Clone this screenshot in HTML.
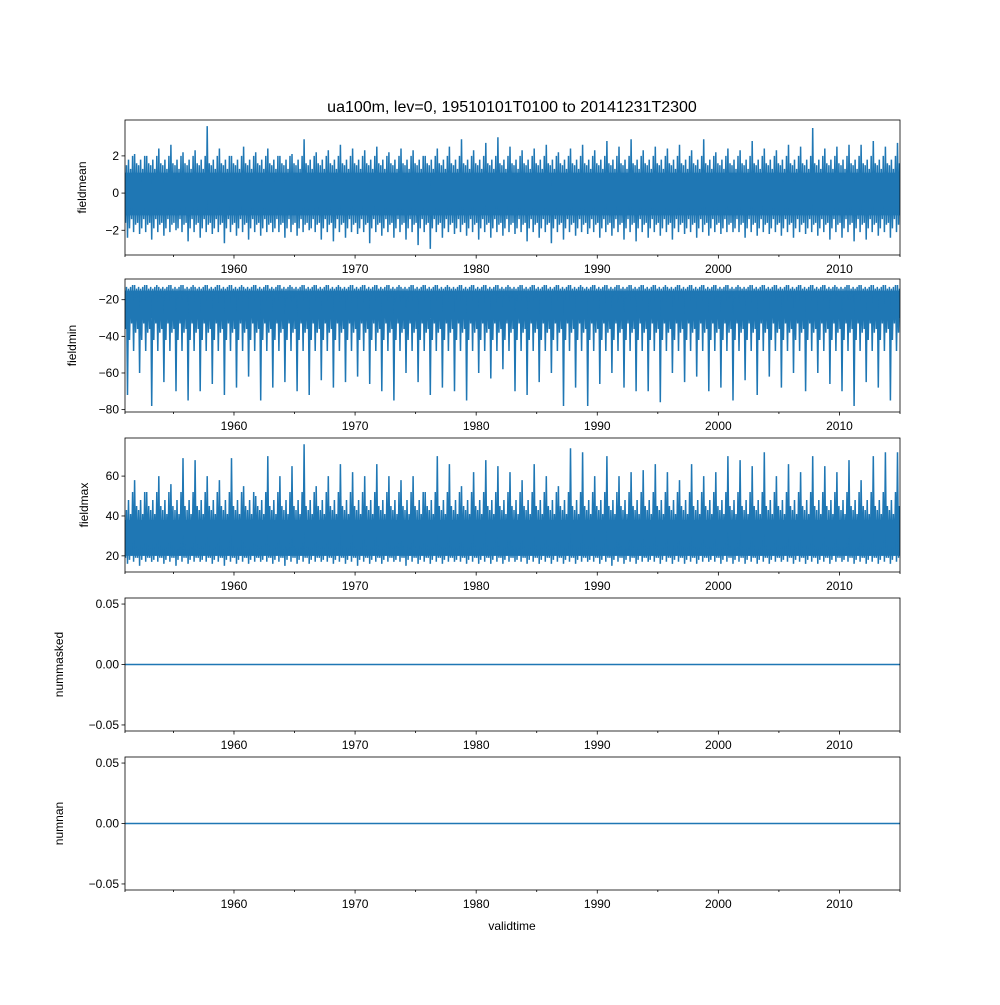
<!DOCTYPE html>
<html><head><meta charset="utf-8">
<style>
body{margin:0;background:#fff}
svg text{font-family:"Liberation Sans","DejaVu Sans",sans-serif;fill:#000}
</style></head>
<body>
<svg id="chart" width="1000" height="1000" viewBox="0 0 1000 1000">
<rect width="1000" height="1000" fill="#fff"/>
<text x="512" y="112" font-size="16" text-anchor="middle">ua100m, lev=0, 19510101T0100 to 20141231T2300</text>
</svg>
<script>
// ---- data ----
const years = [];
for (let y = 1951; y <= 2014; y++) years.push(y);
const xTickLabels = ["1960","1970","1980","1990","2000","2010"];
const meanMax = [2.1,2.0,2.4,2.6,2.2,2.3,3.6,2.4,2.0,2.5,2.2,2.4,2.0,2.1,2.9,2.2,2.3,2.6,2.4,2.3,2.5,2.2,2.4,2.3,2.0,2.4,2.5,2.9,2.3,2.7,3.0,2.5,2.3,2.4,2.6,2.2,2.4,2.6,2.3,2.8,2.5,2.9,2.3,2.5,2.4,2.6,2.3,2.9,2.2,2.4,2.3,2.8,2.4,2.3,2.6,2.5,3.5,2.4,2.5,2.6,2.6,2.8,2.5,2.7];
const meanMin = [-2.4,-2.2,-2.5,-2.3,-2.0,-2.6,-2.4,-2.2,-2.7,-2.3,-2.5,-2.3,-2.1,-2.4,-2.3,-2.0,-2.5,-2.6,-2.4,-2.2,-2.7,-2.3,-2.4,-2.5,-2.8,-3.0,-2.4,-2.2,-2.3,-2.5,-2.4,-2.3,-2.2,-2.6,-2.4,-2.7,-2.5,-2.3,-2.2,-2.4,-2.3,-2.5,-2.6,-2.4,-2.3,-2.5,-2.2,-2.4,-2.3,-2.2,-2.1,-2.4,-2.3,-2.2,-2.3,-2.4,-2.2,-2.3,-2.5,-2.4,-2.6,-2.5,-2.3,-2.4];
const meanCore = [-1.2, 1.1];
const meanFuzz = [-1.6, 1.5, -1.9, 1.8, -1.4, 1.3, -2.1, 2.0, -1.7, 1.6];
const minMin = [-72,-60,-78,-65,-70,-75,-70,-66,-72,-68,-62,-75,-68,-65,-70,-72,-64,-68,-65,-62,-66,-70,-75,-60,-65,-72,-68,-70,-75,-60,-63,-58,-70,-72,-65,-60,-78,-68,-78,-66,-60,-68,-70,-70,-76,-60,-65,-62,-70,-68,-75,-64,-72,-62,-68,-60,-70,-60,-66,-70,-78,-65,-68,-75];
const minMax = [-12,-12,-13,-12,-12,-13,-12,-12,-12,-13,-12,-12,-12,-13,-12,-12,-12,-13,-12,-12,-12,-12,-13,-12,-12,-12,-13,-12,-12,-12,-12,-13,-12,-12,-12,-12,-12,-13,-12,-12,-12,-12,-12,-12,-13,-12,-12,-12,-12,-12,-13,-12,-12,-12,-12,-12,-12,-12,-13,-12,-12,-12,-12,-12];
const minCore = [-30, -15];
const minFuzz = [-36, -13, -42, -14, -33, -13, -48, -12, -38, -14];
const maxMax = [58,52,60,56,69,68,60,58,69,55,50,70,60,65,76,55,60,66,62,60,66,60,58,60,52,70,66,55,62,68,65,62,58,66,60,55,74,72,60,70,60,62,63,66,62,58,66,60,62,70,68,65,72,60,66,62,70,65,62,68,58,70,72,72];
const maxMin = [16,15,17,16,15,16,17,16,15,16,16,17,16,15,16,16,17,16,16,15,16,16,17,15,16,16,16,17,16,16,16,16,17,16,16,16,16,16,17,16,15,16,16,17,16,16,16,16,17,16,16,16,16,16,17,16,16,16,16,17,16,16,16,16];
const maxCore = [20, 38];
const maxFuzz = [19, 43, 18, 48, 20, 41, 17, 52, 19, 45];
const nummasked = [0, 0];
const numnan = [0, 0];

// ---- layout ----
const svg = document.getElementById('chart');
const NS = 'http://www.w3.org/2000/svg';
const L = 125, R = 900, X0 = 1951, X1 = 2015;
const xs = v => L + (v - X0) / (X1 - X0) * (R - L);
const C = '#1f77b4';
function el(tag, attrs, parent){const e=document.createElementNS(NS,tag);for(const k in attrs)e.setAttribute(k,attrs[k]);(parent||svg).appendChild(e);return e;}

const panels = [
 {name:'fieldmean', top:120, bot:255, lo:-3.33, hi:3.93, ticks:[-2,0,2], fmt:v=>v.toString().replace('-','\u2212'), ylx:86, kind:'band', mx:meanMax, mn:meanMin, core:meanCore, fuzz:meanFuzz},
 {name:'fieldmin', top:279, bot:412, lo:-81.3, hi:-8.7, ticks:[-80,-60,-40,-20], fmt:v=>v.toString().replace('-','\u2212'), ylx:76, kind:'band', mx:minMax, mn:minMin, core:minCore, fuzz:minFuzz},
 {name:'fieldmax', top:438, bot:572, lo:11.9, hi:79.1, ticks:[20,40,60], fmt:v=>v.toString(), ylx:88, kind:'band', mx:maxMax, mn:maxMin, core:maxCore, fuzz:maxFuzz},
 {name:'nummasked', top:598, bot:731, lo:-0.055, hi:0.055, ticks:[-0.05,0,0.05], fmt:v=>v.toFixed(2).replace('-','\u2212'), ylx:63, kind:'flat', vals:nummasked},
 {name:'numnan', top:757, bot:890, lo:-0.055, hi:0.055, ticks:[-0.05,0,0.05], fmt:v=>v.toFixed(2).replace('-','\u2212'), ylx:63, kind:'flat', vals:numnan},
];

panels.forEach(p => {
  const g = el('g', {});
  
  
  const ys = v => p.bot - (v - p.lo) / (p.hi - p.lo) * (p.bot - p.top);
  const clipId = 'clip-' + p.name;
  const cp = el('clipPath', {id: clipId}, g);
  el('rect', {x:L, y:p.top, width:R-L, height:p.bot-p.top}, cp);
  const dg = el('g', {'clip-path':'url(#'+clipId+')'}, g);
  if (p.kind === 'band') {
    const core = el('rect', {x:xs(X0), y:ys(p.core[1]), width:xs(X1)-xs(X0), height:ys(p.core[0])-ys(p.core[1]), fill:C}, dg);
    
    
    let pts = [];
    years.forEach((yr, i) => {
      const f = p.fuzz;
      const seq = [f[0], f[1], p.mn[i], f[3], f[2], f[5], f[4], f[7], f[6], p.mx[i], f[8], f[9]];
      seq.forEach((v, k) => pts.push(xs(yr + (k + 0.5) / seq.length).toFixed(1) + ',' + ys(v).toFixed(1)));
    });
    const line = el('polyline', {points: pts.join(' '), fill:'none', stroke:C, 'stroke-width':1.5}, dg);
    
    
  } else {
    const line = el('line', {x1:xs(X0), x2:xs(X1), y1:ys(p.vals[0]), y2:ys(p.vals[1]), stroke:C, 'stroke-width':1.5}, dg);
    
    
  }
  const frame = el('rect', {x:L, y:p.top, width:R-L, height:p.bot-p.top, fill:'none', stroke:'#000', 'stroke-width':0.8}, g);
  
  
  p.ticks.forEach(t => {
    const y = ys(t);
    el('line', {x1:L-3.5, x2:L, y1:y, y2:y, stroke:'#000', 'stroke-width':0.8}, g);
    const tx = el('text', {x:L-6, y:y+4, 'font-size':12, 'text-anchor':'end'}, g);
    tx.textContent = p.fmt(t);
    
    
  });
  for (let yr = 1955; yr <= 2015; yr += 5) {
    const major = yr % 10 === 0;
    el('line', {x1:xs(yr), x2:xs(yr), y1:p.bot, y2:p.bot+(major?3.5:2), stroke:'#000', 'stroke-width':0.8}, g);
  }
  el('line', {x1:xs(X0), x2:xs(X0), y1:p.bot, y2:p.bot+2, stroke:'#000', 'stroke-width':0.8}, g);
  xTickLabels.forEach(lbl => {
    const tx = el('text', {x:xs(+lbl), y:p.bot+18, 'font-size':12, 'text-anchor':'middle'}, g);
    tx.textContent = lbl;
    
    
  });
  const yl = el('text', {x:p.ylx, y:(p.top+p.bot)/2, 'font-size':12, 'text-anchor':'middle', transform:'rotate(-90 '+p.ylx+' '+(p.top+p.bot)/2+')'}, g);
  yl.textContent = p.name;
  
  
});
const xt = el('text', {x:512, y:930, 'font-size':12, 'text-anchor':'middle'});
xt.textContent = 'validtime';


</script>
</body></html>
